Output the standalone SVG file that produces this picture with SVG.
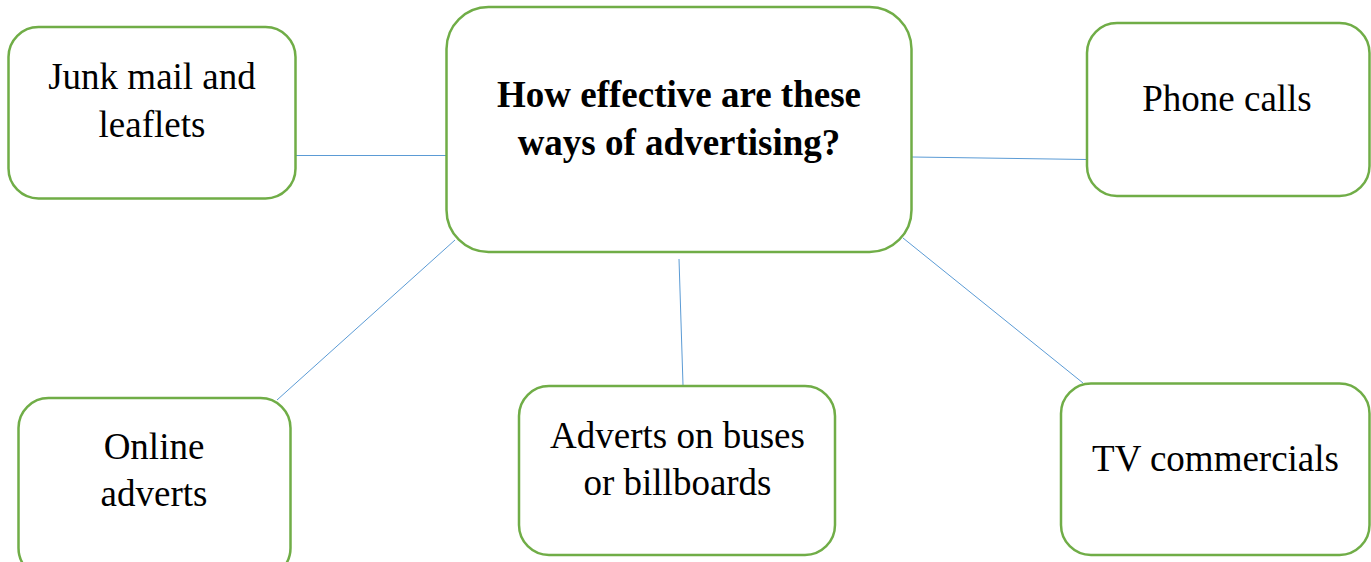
<svg xmlns="http://www.w3.org/2000/svg" width="1371" height="562" viewBox="0 0 1371 562">
  <style>
    .box { fill: #ffffff; stroke: #70AD47; stroke-width: 2.5; }
    .link { stroke: #5B9BD5; stroke-width: 1; fill: none; }
    .label { font-family: "Liberation Serif", "Times New Roman", serif; font-size: 37px; fill: #000000; text-anchor: middle; }
    .title { font-weight: bold; }
  </style>
  <rect width="1371" height="562" fill="#ffffff"/>

  <!-- connectors between the central question and the advertising methods -->
  <g id="connectors">
    <line class="link" x1="296" y1="155.5" x2="448" y2="155.5"/>
    <line class="link" x1="912" y1="157" x2="1087" y2="159.5"/>
    <line class="link" x1="277" y1="400" x2="455" y2="240"/>
    <line class="link" x1="679" y1="259" x2="683" y2="385"/>
    <line class="link" x1="903" y1="238" x2="1083" y2="383"/>
  </g>

  <g id="center">
    <rect class="box" x="446.5" y="7" width="465" height="245" rx="42"/>
    <text class="label title" x="679" y="107">How effective are these</text>
    <text class="label title" x="679" y="155">ways of advertising?</text>
  </g>

  <g id="junk-mail">
    <rect class="box" x="8.5" y="27" width="287" height="171.5" rx="30"/>
    <text class="label" x="152" y="89">Junk mail and</text>
    <text class="label" x="152" y="137">leaflets</text>
  </g>

  <g id="phone-calls">
    <rect class="box" x="1087" y="23" width="282.5" height="173" rx="30"/>
    <text class="label" x="1227" y="111">Phone calls</text>
  </g>

  <g id="online-adverts">
    <rect class="box" x="18.5" y="398" width="272" height="180" rx="30"/>
    <text class="label" x="154" y="459">Online</text>
    <text class="label" x="154" y="506">adverts</text>
  </g>

  <g id="buses-billboards">
    <rect class="box" x="519" y="386" width="316" height="169" rx="30"/>
    <text class="label" x="677.5" y="448">Adverts on buses</text>
    <text class="label" x="677.5" y="495">or billboards</text>
  </g>

  <g id="tv-commercials">
    <rect class="box" x="1061" y="383.5" width="308.5" height="171.5" rx="30"/>
    <text class="label" x="1215.5" y="471">TV commercials</text>
  </g>
</svg>
